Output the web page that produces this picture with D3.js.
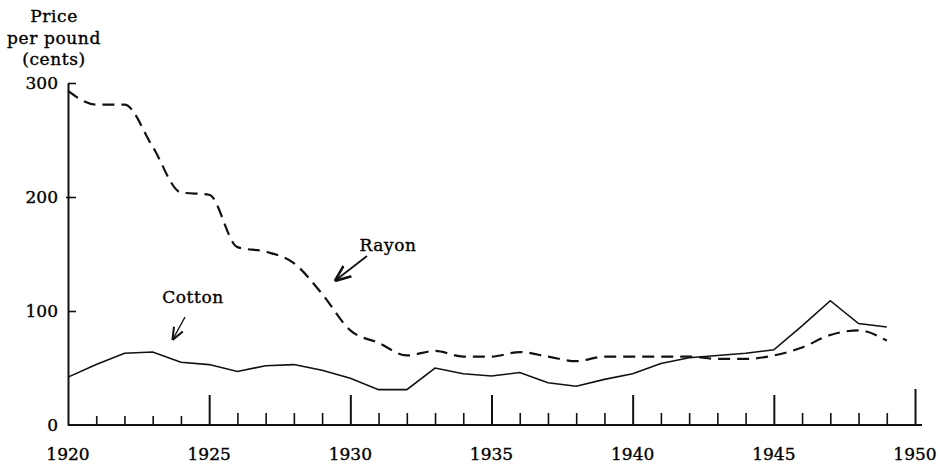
<!DOCTYPE html>
<html>
<head>
<meta charset="utf-8">
<script src="https://cdn.jsdelivr.net/npm/d3@7"></script>
<style>
  html, body { margin: 0; padding: 0; background: #fff; }
  svg text { font-family: "DejaVu Serif", "Liberation Serif", serif; fill: #000; stroke: #000; stroke-width: 0.35px; }
</style>
</head>
<body>
<svg id="chart" width="938" height="464"></svg>
<script>
const years = d3.range(1920, 1950);
const rayon = [293, 281, 281, 244, 204, 202, 156, 152, 142, 115, 83, 72, 61, 65, 60, 60, 64, 60, 56, 60, 60, 60, 60, 58, 58, 61, 68, 79, 83, 74];
const cotton = [42, 53, 63, 64, 55, 53, 47, 52, 53, 48, 41, 31, 31, 50, 45, 43, 46, 37, 34, 40, 45, 54, 59, 61, 63, 66, 87, 109, 89, 86];
const yTicks = [0, 100, 200, 300];
const xTickYears = d3.range(1921, 1951);
const xLabels = [1920, 1925, 1930, 1935, 1940, 1945, 1950];
const titleLines = ["Price", "per pound", "(cents)"];

const svg = d3.select("#chart");
const x = d3.scaleLinear().domain([1920, 1950]).range([68, 915]);
const y = d3.scaleLinear().domain([0, 300]).range([425, 83]);
const ink = "#111";
const fs = 17;

// Y axis
const yAxis = d3.axisLeft(y).tickValues(yTicks).tickSizeInner(-8).tickSizeOuter(0).tickPadding(10)
  .tickFormat(d3.format("d"));
const gy = svg.append("g").attr("transform", `translate(${x(1920)},0)`).call(yAxis);
gy.select(".domain").attr("stroke", ink).attr("stroke-width", 2);
gy.selectAll(".tick line").attr("stroke", ink).attr("stroke-width", 1.6)
  .attr("x1", d => d === 200 ? -2 : 0)
  .attr("x2", d => d === 0 ? 0 : 8);
gy.selectAll(".tick text").attr("font-size", fs).attr("fill", "#000")
  .attr("font-family", '"DejaVu Serif", serif');

// X axis
const xAxis = d3.axisBottom(x).tickValues(xTickYears).tickSizeOuter(0)
  .tickSizeInner(0).tickFormat(() => "");
const gx = svg.append("g").attr("transform", `translate(0,${y(0)})`).call(xAxis);
gx.select(".domain").remove();
gx.selectAll(".tick line")
  .attr("stroke", ink)
  .attr("stroke-width", d => d % 5 === 0 ? 2 : 1.6)
  .attr("y2", d => d === 1950 ? -36 : (d % 5 === 0 ? -30 : (d < 1925 ? -9 : -12)));
svg.append("line")
  .attr("x1", x(1920)).attr("x2", x(1950) + 7)
  .attr("y1", y(0)).attr("y2", y(0))
  .attr("stroke", ink).attr("stroke-width", 2);
svg.append("g").selectAll("text").data(xLabels).join("text")
  .attr("x", d => x(d)).attr("y", y(0) + 35)
  .attr("text-anchor", "middle").attr("font-size", fs)
  .text(d => d);

// Y title
svg.append("g").selectAll("text").data(titleLines).join("text")
  .attr("x", 54).attr("y", (d, i) => 22 + i * 21.5)
  .attr("text-anchor", "middle").attr("font-size", fs)
  .attr("letter-spacing", 0.6)
  .text(d => d);

// Lines
const data = years.map((yr, i) => ({ yr, rayon: rayon[i], cotton: cotton[i] }));
svg.append("path").datum(data)
  .attr("fill", "none").attr("stroke", ink).attr("stroke-width", 2.2)
  .attr("stroke-dasharray", "12,7")
  .attr("d", d3.line().x(d => x(d.yr)).y(d => y(d.rayon)).curve(d3.curveMonotoneX));
svg.append("path").datum(data)
  .attr("fill", "none").attr("stroke", ink).attr("stroke-width", 1.6)
  .attr("d", d3.line().x(d => x(d.yr)).y(d => y(d.cotton)));

// Labels with arrows
svg.append("defs").append("marker")
  .attr("id", "arr").attr("viewBox", "0 0 10 10").attr("refX", 9).attr("refY", 5)
  .attr("markerWidth", 9).attr("markerHeight", 9).attr("orient", "auto-start-reverse")
  .append("path").attr("d", "M0,1 L10,5 L0,9").attr("fill", "none").attr("stroke", ink).attr("stroke-width", 1.6);

svg.append("text").attr("x", 193).attr("y", 303).attr("text-anchor", "middle")
  .attr("font-size", fs).attr("letter-spacing", 0.6).text("Cotton");
svg.append("line").attr("x1", 185).attr("y1", 317).attr("x2", 173).attr("y2", 339)
  .attr("stroke", ink).attr("stroke-width", 1.4).attr("marker-end", "url(#arr)");

svg.append("text").attr("x", 388).attr("y", 251).attr("text-anchor", "middle")
  .attr("font-size", fs).attr("letter-spacing", 0.6).text("Rayon");
svg.append("line").attr("x1", 367).attr("y1", 256).attr("x2", 336).attr("y2", 280)
  .attr("stroke", ink).attr("stroke-width", 1.8).attr("marker-end", "url(#arr)");
</script>
</body>
</html>
